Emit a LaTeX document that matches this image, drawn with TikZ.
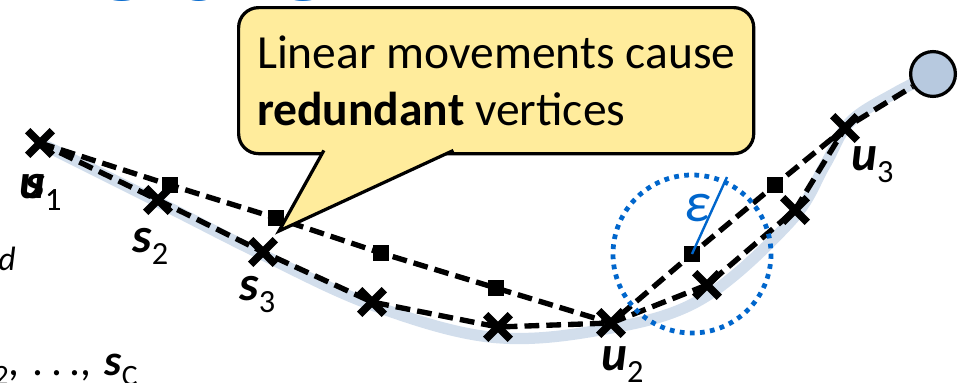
\documentclass[tikz,border=0pt]{standalone}
\usepackage{fontspec}
\setmainfont{Carlito}
\usetikzlibrary{shapes.misc,calc,backgrounds}
\definecolor{TrajBand}{RGB}{210,222,236}
\definecolor{NoteYellow}{RGB}{255,236,156}
\definecolor{EpsBlue}{RGB}{0,102,204}
\definecolor{EndFill}{RGB}{183,201,223}
\newcommand{\vlabel}[3][23]{\textbf{\textit{#2}}\raisebox{-0.25em}{\fontsize{#1}{#1}\selectfont #3}}
\tikzset{
  traj band/.style={line width=8pt, TrajBand, line cap=round, line join=round},
  traj dash/.style={line width=3.8pt, dash pattern=on 10.5pt off 5pt, black},
  pt cross/.style={cross out, draw=black, line width=5.5pt, minimum size=0.42cm, inner sep=0pt},
  pt square/.style={rectangle, fill=black, minimum size=0.38cm, inner sep=0pt},
  pt end/.style={circle, draw=black, fill=EndFill, line width=2.3pt, minimum size=1.12cm, inner sep=0pt},
  pt label/.style={anchor=base west, inner sep=0pt, font=\fontsize{35}{35}\selectfont},
  note box/.style={
    draw=black,
    fill=NoteYellow,
    line width=2.3pt,
    rounded corners=0.5cm,
    align=left,
    font=\fontsize{33.8}{40.5}\selectfont,
    minimum width=12.875cm,
    minimum height=3.65cm,
    inner sep=0pt
  },
  eps ring/.style={EpsBlue, line width=3.4pt, dash pattern=on 3.4pt off 3.8pt},
  eps line/.style={EpsBlue, line width=1.7pt},
  side text/.style={inner sep=0pt}
}

\begin{document}
\begin{tikzpicture}[x=0.025cm, y=-0.025cm]
\useasboundingbox (0,0) rectangle (961,382);
\clip (0,0) rectangle (961,382);
% slide title and body text, cut by the frame
\node[side text, anchor=base west, text=EpsBlue, font=\fontsize{101}{101}\selectfont] (title) at (-37,0) {Problem};
\node[side text, anchor=base west, font=\itshape\fontsize{24}{24}\selectfont] (bodyd) at (-2,270) {d};
\node[side text, anchor=base east, font=\fontsize{31}{31}\selectfont] (bodys) at (138,375) {\vlabel[21]{s}{2},\hspace{0.3em}.\hspace{0.17em}.\hspace{0.17em}.,\hspace{0.3em}\vlabel[21]{s}{C}};
% callout
\node[note box, anchor=north west] (note) at (237,6) {Linear movements cause\\\textbf{redundant} vertices};
\coordinate (tip) at (279,231);
\fill[NoteYellow] ($(tip)!1.08!(323,152)$) -- (tip) -- ($(tip)!1.08!(450,152)$) -- cycle;
\draw[line width=2.3pt] ($(tip)!1.02!(323,152)$) -- (tip) -- ($(tip)!1.02!(450,152)$);
% sampled points
\node[pt cross] (u1) at (40,143) {};
\node[pt cross] (s2) at (158,200) {};
\node[pt cross] (s3) at (263,252) {};
\node[pt cross] (c4) at (372,302) {};
\node[pt cross] (c5) at (498,327) {};
\node[pt cross] (u2) at (611,323) {};
\node[pt cross] (c7) at (707,285) {};
\node[pt cross] (c8) at (795,210) {};
\node[pt cross] (u3) at (845,128) {};
\node[pt square] (q1) at (170,185) {};
\node[pt square] (q2) at (276,218) {};
\node[pt square] (q3) at (381,253) {};
\node[pt square] (q4) at (496,288) {};
\node[pt square] (q5) at (692,254) {};
\node[pt square] (q6) at (775,185) {};
\node[pt end] (goal) at (933,74) {};
% tolerance
\draw[eps ring] (q5.center) circle[radius=79];
\coordinate (epsend) at (727,177);
\draw[eps line] (q5.center) -- (epsend);
\node[side text, text=EpsBlue, font=\itshape\fontsize{40}{40}\selectfont] (epslbl) at (697,208) {ε};
% labels
\node[pt label] (lu1) at (19,198) {\vlabel{u}{1}};
\node[pt label, anchor=base east] (ls1) at (lu1.base east) {\vlabel{s}{1}};
\node[pt label] (ls2) at (132,252) {\vlabel{s}{2}};
\node[pt label] (ls3) at (239,300) {\vlabel{s}{3}};
\node[pt label] (lu2) at (601,370) {\vlabel{u}{2}};
\node[pt label] (lu3) at (851,170) {\vlabel{u}{3}};
\begin{scope}[on background layer]
\draw[traj band] plot[smooth, tension=0.6] coordinates {(40,143) (158,202) (263,255) (372,305) (490,337) (600,330) (700,300) (790,222) (825,165) (850,122) (895,93) (933,74)};
\draw[traj dash] (u1.center) -- (s2.center) -- (s3.center) -- (c4.center) -- (c5.center) -- (u2.center) -- (c7.center) -- (c8.center) -- (u3.center) -- (goal);
\draw[traj dash] (u1.center) -- (q1.center) -- (q2.center) -- (q3.center) -- (q4.center) -- (u2.center) -- (q5.center) -- (q6.center) -- (u3.center);
\end{scope}
\end{tikzpicture}
\end{document}
